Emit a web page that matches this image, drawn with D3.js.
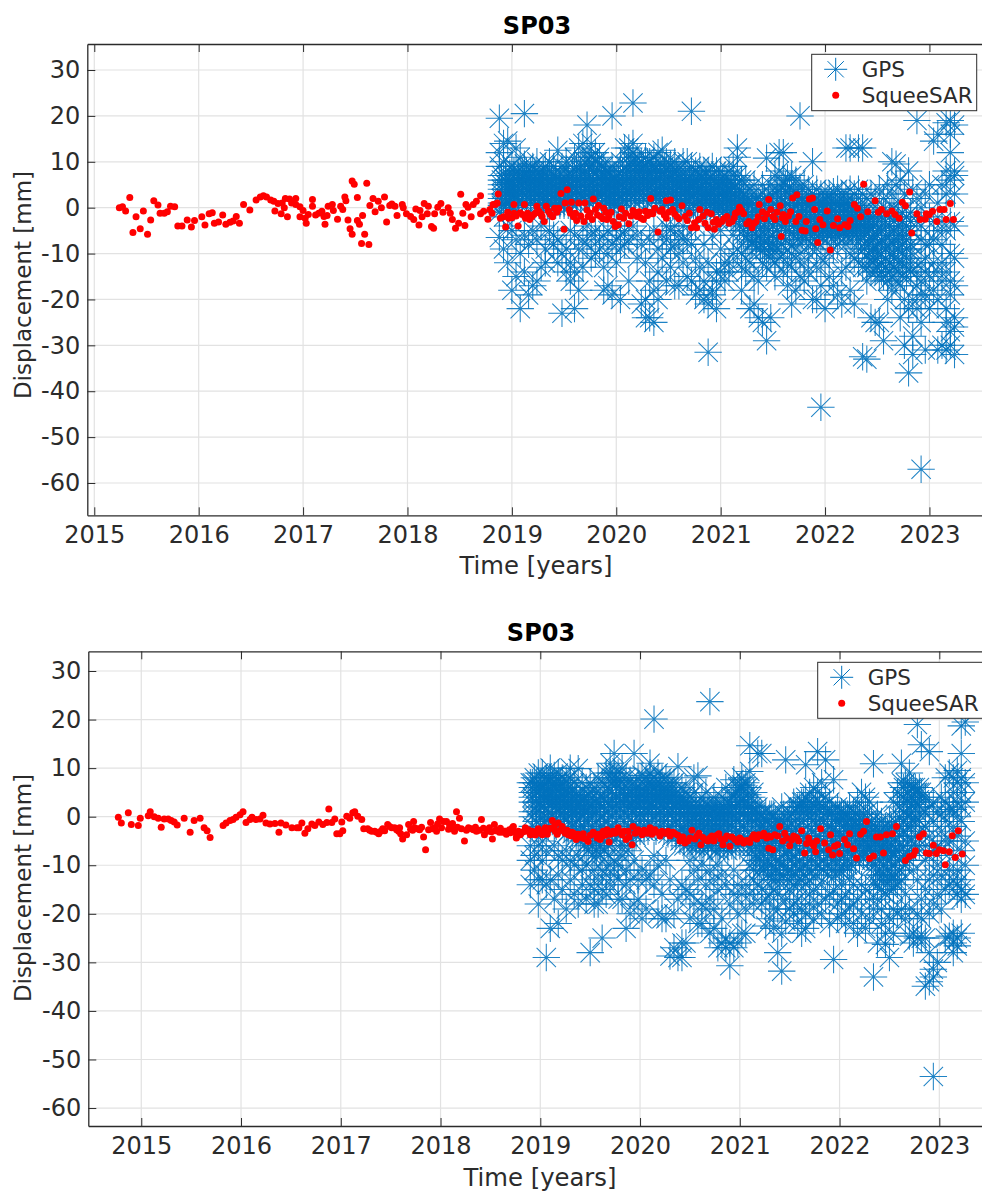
<!DOCTYPE html>
<html><head><meta charset="utf-8">
<script src="https://cdn.jsdelivr.net/npm/d3@7"></script>
<style>html,body{margin:0;padding:0;background:#fff;overflow:hidden}svg{display:block;font-family:"DejaVu Sans",sans-serif}</style>
</head><body><svg id="c" width="982" height="1192"></svg>
<script>
const yearTicksTop=[2015,2016,2017,2018,2019,2020,2021,2022,2023];
const yearTicksBottom=yearTicksTop;
const dispTicks=[30,20,10,0,-10,-20,-30,-40,-50,-60];
const titleText="SP03", xLabel="Time [years]", yLabel="Displacement [mm]";
const seriesNames=["GPS","SqueeSAR"];

const sqTop=[[2015.24,0],[2015.27,.2],[2015.3,-.7],[2015.34,2.2],[2015.37,-5.4],[2015.4,-2],[2015.44,-4.6],[2015.47,-.7],[2015.51,-5.8],[2015.54,-2.7],[2015.57,1.5],[2015.61,.6],[2015.63,-1.2],[2015.67,-1.2],[2015.7,-.9],[2015.73,.3],[2015.77,.2],[2015.8,-4],[2015.84,-4],[2015.89,-2.7],[2015.93,-4.2],[2015.96,-2.8],[2016.03,-2],[2016.06,-3.8],[2016.1,-1.3],[2016.13,-1.1],[2016.15,-3.4],[2016.19,-3.1],[2016.23,-1.6],[2016.26,-3.6],[2016.3,-3.2],[2016.33,-2.9],[2016.36,-1.9],[2016.39,-3.4],[2016.43,.7],[2016.49,-.5],[2016.55,1.7],[2016.59,2.3],[2016.62,2.6],[2016.65,2.3],[2016.69,1.7],[2016.72,1.4],[2016.73,-.7],[2016.76,.9],[2016.79,-1.3],[2016.8,1],[2016.82,0],[2016.83,2],[2016.85,-2],[2016.87,1.9],[2016.89,1],[2016.93,2],[2016.93,.7],[2016.97,.2],[2016.97,-2],[2017,-.6],[2017.02,-2.3],[2017.03,-3.4],[2017.05,-1.5],[2017.09,1.8],[2017.09,.3],[2017.12,-1.6],[2017.15,-1.2],[2017.18,-.8],[2017.2,-1.9],[2017.21,-3.6],[2017.23,-1.7],[2017.24,.3],[2017.28,.7],[2017.29,-.6],[2017.33,-2.5],[2017.36,.3],[2017.38,-.4],[2017.4,2.3],[2017.41,1.5],[2017.43,-2.7],[2017.45,-4.6],[2017.47,-5.8],[2017.47,5.8],[2017.49,5.1],[2017.52,2.2],[2017.52,-2.8],[2017.54,-3.6],[2017.56,-7.8],[2017.57,-1.7],[2017.59,-5.8],[2017.61,5.3],[2017.63,-8],[2017.64,.5],[2017.67,2],[2017.69,-.9],[2017.72,1.4],[2017.75,0],[2017.78,2.3],[2017.8,-3.1],[2017.83,.5],[2017.85,.8],[2017.88,.3],[2017.9,-1.7],[2017.95,.7],[2017.96,0],[2017.99,-1.3],[2018.03,-1.9],[2018.06,-2.6],[2018.08,-.3],[2018.11,-3.8],[2018.12,-.6],[2018.14,-2],[2018.16,.9],[2018.19,-1.3],[2018.2,.3],[2018.23,-4.1],[2018.25,-4.5],[2018.26,-1.3],[2018.29,.1],[2018.32,.9],[2018.34,-1],[2018.39,0],[2018.41,-1.2],[2018.43,-2.6],[2018.46,-4.5],[2018.49,-3.4],[2018.51,2.9],[2018.53,-1.2],[2018.55,-3.9],[2018.56,.7],[2018.58,.1],[2018.61,-2],[2018.63,.7],[2018.66,1.4],[2018.7,2.6],[2018.7,-1.3],[2018.73,-.8],[2018.77,-2.5],[2018.79,-.4],[2018.81,-1.2],[2018.82,.7],[2018.84,.7],[2018.86,1],[2018.87,3],[2018.89,-2.3],[2018.94,-4.2],[2018.97,-2.3],[2019.02,.7],[2019.02,-1.2],[2019.06,-4],[2019.1,-1.5],[2019.12,.7],[2019.15,-1.2],[2019.17,-2.6],[2019.21,-1.5],[2019.24,.3],[2019.26,-.8],[2019.29,-1.9],[2019.31,-3],[2019.33,.3],[2019.37,-1.5],[2019.41,-.1],[2019.45,-.1],[2019.47,3.1],[2019.5,-4.7],[2019.53,3.9],[2019.51,1],[2019.56,-1.2],[2019.57,1.2],[2019.61,-1.2],[2019.62,-2.8],[2019.64,1],[2019.7,1],[2019.69,-3],[2019.73,-1.9],[2019.77,-2.6],[2019.78,1.9],[2019.8,-.4],[2019.83,.5],[2019.85,-1.9],[2019.88,-.1],[2019.91,-2.6],[2019.95,-1],[2019.99,-4.1],[2020.02,-3.7],[2020.05,-.3],[2020.07,-2.3],[2020.12,-3.5],[2020.16,-.6],[2020.2,-1.9],[2020.24,-2.3],[2020.28,-.8],[2020.32,-1],[2020.33,2],[2020.37,-.1],[2020.4,-5.3],[2020.44,-.4],[2020.48,-2.3],[2020.48,1.5],[2020.52,1.7],[2020.54,-.4],[2020.58,-1.9],[2020.63,.4],[2020.66,-1.9],[2020.7,-1.2],[2020.72,-4.4],[2020.77,-4.4],[2020.79,-2.6],[2020.8,-.4],[2020.87,-1],[2020.88,-4.4],[2020.91,-1.3],[2020.94,-4.7],[2020.96,-2.6],[2021.01,-3],[2021.06,-1.9],[2021.11,-3],[2021.14,-1.2],[2021.18,.1],[2021.22,-1.3],[2021.25,-3.5],[2021.3,-4.4],[2021.34,-3],[2021.37,.7],[2021.4,-.9],[2021.42,-2.4],[2021.46,1.8],[2021.48,-.4],[2021.5,-1.9],[2021.54,-1],[2021.57,.4],[2021.58,-6.3],[2021.6,-1.5],[2021.62,-3],[2021.67,-.9],[2021.69,2.1],[2021.73,2.8],[2021.72,-3],[2021.75,-1.9],[2021.78,-4.9],[2021.81,-5.1],[2021.82,-3],[2021.85,1.9],[2021.88,2.1],[2021.9,-.4],[2021.91,-4.6],[2021.93,-7.6],[2021.95,-2.6],[2021.98,-3.7],[2022.02,-.7],[2022.05,-9.2],[2022.08,-3.9],[2022.12,-2.4],[2022.14,-4.4],[2022.19,-3.7],[2022.22,-4.1],[2022.24,-2.8],[2022.28,.7],[2022.31,-.1],[2022.34,-2],[2022.37,5.1],[2022.41,-.9],[2022.48,1.5],[2022.51,-1],[2022.54,-.4],[2022.59,-1.3],[2022.64,-.7],[2022.67,-1.5],[2022.71,-2.3],[2022.74,1.2],[2022.77,.4],[2022.81,3.4],[2022.83,-5.5],[2022.88,-1.3],[2022.91,-2.6],[2022.96,-2.5],[2022.97,-1.3],[2023,-1.5],[2023.03,-.8],[2023.07,-3],[2023.1,-.4],[2023.14,-.4],[2023.16,-2.6],[2023.2,.9],[2023.23,-2.6]];
const sqTopBand=[[2018.92,-2],[2018.96,-1],[2019,-2.2],[2019.04,-1.8],[2019.08,-1.1],[2019.13,-2.3],[2019.19,-2],[2019.23,-1.1],[2019.28,-1.4],[2019.35,-.8],[2019.39,-2],[2019.43,-1],[2019.55,-.4],[2019.59,-2],[2019.66,-1.8],[2019.72,-.5],[2019.75,-1.2],[2019.82,-1.6],[2019.87,-2.4],[2019.9,-1],[2019.93,-1.8],[2019.97,-3],[2020.03,-2],[2020.09,-1.2],[2020.14,-1.8],[2020.18,-1],[2020.22,-.9],[2020.26,-2.6],[2020.3,-1.7],[2020.35,-1.3],[2020.42,-.8],[2020.46,-1.6],[2020.5,-1],[2020.56,-1.4],[2020.6,-2.4],[2020.68,-2.8],[2020.75,-3.3],[2020.83,-1.8],[2020.85,-3.4],[2020.93,-3.2],[2020.98,-3.6],[2021.03,-2.4],[2021.08,-3.4],[2021.13,-2.2],[2021.16,-1],[2021.2,-.6],[2021.27,-3],[2021.32,-3.4],[2021.36,-2],[2021.44,-1.4],[2021.52,-2.6],[2021.59,-2.2],[2021.65,-1.8]];

const sqBottom=[[2014.77,-.1],[2014.8,-1.3],[2014.87,.8],[2014.9,-1.6],[2014.97,-1.8],[2014.99,-.3],[2015.07,.2],[2015.09,1],[2015.13,0],[2015.17,-.3],[2015.2,-2.2],[2015.23,-.5],[2015.27,-.5],[2015.3,-.8],[2015.33,-1.1],[2015.36,-1.7],[2015.43,-.3],[2015.49,-3.2],[2015.53,-.8],[2015.59,-.3],[2015.63,-2.3],[2015.66,-2.9],[2015.69,-4.3],[2015.82,-1.8],[2015.85,-1.3],[2015.89,-.8],[2015.92,-.6],[2015.95,-.1],[2015.99,.4],[2016.02,1],[2016.05,-1.2],[2016.09,-.6],[2016.11,-.1],[2016.15,-.6],[2016.19,-.5],[2016.22,.3],[2016.25,-1.3],[2016.29,-1.5],[2016.34,-1.4],[2016.38,-3.2],[2016.4,-1.3],[2016.45,-1.7],[2016.51,-2.3],[2016.56,-2.3],[2016.58,-2.3],[2016.61,-1.3],[2016.64,-3.4],[2016.67,-2.5],[2016.71,-1.5],[2016.74,-1.8],[2016.78,-1.1],[2016.82,-1.6],[2016.86,-1.2],[2016.88,1.6],[2016.91,-1.2],[2016.94,-.5],[2016.96,-3.5],[2016.99,-3.5],[2017.02,-2.9],[2017.01,-1.1],[2017.06,.1],[2017.09,-.3],[2017.12,.8],[2017.14,1],[2017.17,.1],[2017.21,-.6],[2017.23,-2.5],[2017.27,-2.5],[2017.29,-2.8],[2017.31,-3],[2017.34,-3],[2017.36,-3.2],[2017.38,-3.5],[2017.4,-3],[2017.42,-2.5],[2017.47,-1.6],[2017.49,-2],[2017.51,-2.3],[2017.54,-2.3],[2017.56,-2.7],[2017.59,-2.3],[2017.6,-3.5],[2017.62,-4.6],[2017.66,-3.7],[2017.68,-1.6],[2017.7,-2.6],[2017.73,-1],[2017.74,-2.3],[2017.77,-2.5],[2017.79,-2.7],[2017.83,-4.2],[2017.85,-6.8],[2017.88,-2.7],[2017.9,-1.2],[2017.92,-2.5],[2017.94,-2.3],[2017.97,-1.5],[2017.99,-.5],[2018.03,-1],[2018.06,-1],[2018.09,-1.6],[2018.11,-2.3],[2018.14,-3],[2018.16,1],[2018.17,-2.2],[2018.19,-.3],[2018.21,-2.5],[2018.24,-5],[2018.28,-2.3],[2018.31,-2.5],[2018.33,-2.7],[2018.36,-3],[2018.39,-2.8],[2018.41,-.6],[2018.44,-3.7],[2018.47,-3],[2018.49,-2.3],[2018.52,-4.6],[2018.54,-1.6],[2018.57,-2.8],[2018.59,-3.2],[2018.62,-3.2],[2018.64,-3],[2018.67,-3.1],[2018.69,-2.7],[2018.73,-2],[2018.76,-4.4],[2018.8,-3.4],[2018.85,-2.3],[2018.87,-3],[2018.9,-3.4],[2018.95,-3.7],[2018.98,-2.5],[2018.6,-3],[2018.65,-3],[2018.72,-2.3],[2018.76,-4.2],[2018.8,-3.7],[2018.86,-2.7],[2018.9,-3.7],[2018.95,-3.7],[2018.98,-2.7],[2019.02,-3.7],[2019.05,-2.3],[2019.08,-2.7],[2019.12,-.8],[2019.15,-3],[2019.18,-1.3],[2019.22,-2],[2019.25,-3.4],[2019.28,-3.7],[2019.32,-3.2],[2019.36,-4.7],[2019.4,-4],[2019.43,-3.5],[2019.48,-5.1],[2019.53,-3.2],[2019.57,-4.4],[2019.6,-4.7],[2019.63,-3],[2019.67,-2.7],[2019.69,-5.2],[2019.73,-3],[2019.78,-2.3],[2019.82,-3.7],[2019.86,-4.7],[2019.88,-3],[2019.92,-5.8],[2019.93,-2],[2019.98,-2.7],[2020.02,-3.7],[2020.07,-3.4],[2020.1,-2.3],[2020.15,-2.7],[2020.2,-4],[2020.25,-3.4],[2020.3,-4],[2020.35,-3.5],[2020.4,-5],[2020.45,-5.4],[2020.48,-5],[2020.52,-2.8],[2020.57,-4],[2020.61,-5.8],[2020.65,-4.7],[2020.7,-4.4],[2020.74,-5],[2020.79,-3.5],[2020.83,-5.8],[2020.87,-4],[2020.9,-6.1],[2020.95,-4.7],[2021,-4.4],[2021.04,-5.4],[2021.1,-5.3],[2021.14,-3.7],[2021.19,-3.7],[2021.24,-3.4],[2021.29,-6.5],[2021.33,-6.8],[2021.29,-4],[2021.35,-3.7],[2021.4,-2],[2021.43,-5],[2021.45,-3.4],[2021.5,-6],[2021.54,-4],[2021.59,-5],[2021.62,-2.9],[2021.65,-7.5],[2021.69,-4.4],[2021.72,-5.4],[2021.76,-7.2],[2021.77,-5],[2021.81,-2.5],[2021.85,-5.4],[2021.89,-6.8],[2021.91,-3.7],[2021.93,-7.9],[2021.95,-6.1],[2021.98,-5.8],[2022,-7.6],[2022.05,-4.7],[2022.08,-5.8],[2022.1,-3.5],[2022.14,-6.6],[2022.17,-8.5],[2022.21,-3.6],[2022.24,-3],[2022.27,-1],[2022.3,-8.6],[2022.34,-8.1],[2022.37,-4.2],[2022.41,-4.2],[2022.44,-7.5],[2022.47,-3.7],[2022.53,-3.5],[2022.57,-2],[2022.66,-9],[2022.7,-8.2],[2022.74,-7.9],[2022.76,-7],[2022.8,-4.2],[2022.84,-3.5],[2022.87,-7.5],[2022.9,-7.6],[2022.94,-5.9],[2022.97,-7.6],[2023,-6.8],[2023.04,-7],[2023.06,-9.9],[2023.1,-7.2],[2023.13,-3.9],[2023.16,-8.4],[2023.19,-2.9],[2023.23,-7.7]];
const sqBottomBand=[[2017.44,-2.9],[2017.58,-3],[2017.72,-2.8],[2017.81,-2.2],[2017.96,-3],[2018.01,-2.3],[2018.08,-2.6],[2018.12,-1.4],[2018.26,-2.8],[2018.35,-2.2],[2018.43,-2.4],[2018.51,-3.1],[2018.55,-2.9],[2018.6,-2.4],[2018.66,-3.6],[2018.7,-3.3],[2018.74,-3.1],[2018.78,-3],[2018.83,-3.1],[2018.88,-2.7],[2018.92,-3],[2018.97,-3.3],[2019,-3],[2019.04,-3.2],[2019.07,-3.6],[2019.1,-2.4],[2019.14,-2],[2019.17,-3.6],[2019.2,-2.8],[2019.24,-3],[2019.27,-2.8],[2019.31,-4],[2019.34,-3.5],[2019.38,-3.6],[2019.42,-4.4],[2019.45,-4.6],[2019.5,-3.8],[2019.55,-3.6],[2019.59,-3.6],[2019.62,-4],[2019.65,-3.8],[2019.7,-3.6],[2019.75,-3.4],[2019.8,-3.2],[2019.84,-3],[2019.89,-4.2],[2019.95,-3.4],[2020,-3.2],[2020.04,-2.8],[2020.09,-3],[2020.12,-3.6],[2020.17,-3.2],[2020.22,-3],[2020.28,-3],[2020.33,-3.2],[2020.38,-3.8],[2020.43,-4.2],[2020.5,-4.4],[2020.55,-4.6],[2020.59,-3.4],[2020.63,-4.3],[2020.68,-5],[2020.72,-4],[2020.77,-3.8],[2020.81,-4.6],[2020.85,-4.6],[2020.92,-4.2],[2020.98,-5.2],[2021.02,-4.8],[2021.07,-4.9],[2021.12,-4.4],[2021.17,-4.6],[2021.22,-3.9],[2021.27,-4.4],[2021.31,-4.2],[2021.38,-4],[2021.47,-4.4],[2021.52,-4.8],[2021.57,-4.3],[2021.67,-5.5],[2021.74,-6]];

// GPS scatter, top panel: [year, values near that date...]
const gpsTop=[
[2018.88,19.5,9,-1,-6.5,12],
[2018.92,10,-2,-9,14],
[2018.96,5.5,-4,14.5,-12],
[2019,9,-5,-18,3.5],
[2019.04,13,-7,-15],
[2019.08,11,-22,-10],
[2019.12,20.5,9.5,-6,-14],
[2019.16,6.5,-19,-8],
[2019.2,9,-17,-5],
[2019.24,10,-16,-7],
[2019.28,-13,-4,7],
[2019.32,9,-9,-12],
[2019.36,10,-5],
[2019.4,9,-8,-6],
[2019.44,12.5,-12,-7],
[2019.48,9,-23,-10],
[2019.52,8.5,-14,-9,10],
[2019.56,-16,-12,-5],
[2019.6,11,-14,-22,-6],
[2019.64,-18,-9,13],
[2019.68,14,-13,-7],
[2019.72,18,12,-8,-4],
[2019.76,14,11,-11,-6],
[2019.8,12,-5,-10],
[2019.84,11,-9,-7],
[2019.88,9,-18,-13,-6],
[2019.92,8,-10,-17,-5],
[2019.96,20,9,-8,-19],
[2020,7,-7,-12,-4],
[2020.04,10,-20,-6,-9],
[2020.08,13,-5,-8],
[2020.12,13,11,-7,-16],
[2020.16,22.8,14,12,-4],
[2020.2,11,-11,-6],
[2020.24,10,-8,-21],
[2020.28,11,-20,-12,-24],
[2020.32,10,-16,-24,-7],
[2020.36,11,-25,-18,-5],
[2020.4,12,-20,-9,-14],
[2020.44,12.5,-6,-11],
[2020.48,10,-7,-16,-4],
[2020.52,9.5,-5,-13,-9],
[2020.56,10,-17,-8,-4],
[2020.6,8.5,-6,-17,-10],
[2020.64,10,-12,-4,-7],
[2020.68,10,-7,-15],
[2020.72,21,9,-16,-8],
[2020.76,8,-19,-11,-4],
[2020.8,9,-18,-13],
[2020.84,8,-20,-16,-8],
[2020.88,8,-21,-31.5,-12],
[2020.92,9,-18,-19,-6],
[2020.96,8,-14,-16,-22],
[2021,8,-9,-14,-5],
[2021.04,7,-16,-12],
[2021.08,8,-12,-14],
[2021.12,7,-6,-10,9],
[2021.16,13,7,-9,11],
[2021.2,6,-18,-10,-13],
[2021.24,6,-11,-14],
[2021.28,4,-22,-12],
[2021.32,5,-15,-21],
[2021.36,2.5,-24,-16],
[2021.4,5,-12,-25],
[2021.44,10.8,-13,-29],
[2021.48,5,-11,-24],
[2021.52,7,-12,-15],
[2021.56,8,-11,12],
[2021.6,12,6,-10,-14],
[2021.64,6.5,-12,-17],
[2021.68,7,-10,-21,-13],
[2021.72,6,-11,-18],
[2021.76,20,4.5,-10,-15],
[2021.8,5,-12,-16],
[2021.84,4,-10,-14],
[2021.88,10,3,-8,-20],
[2021.92,4,-9,-20,-13],
[2021.96,-43.5,3,-11,-17],
[2022,3,-22,-12],
[2022.04,3,-10,-15],
[2022.08,3.5,-9,-17],
[2022.12,4,-8,-19],
[2022.16,3,-21,-14],
[2022.2,3,-8,-13,13],
[2022.24,4,-18,-10,13],
[2022.28,3,-11,-21],
[2022.32,4,-9,-12,13],
[2022.36,3,-13,-32.5,13],
[2022.4,2,-13,-33,-16],
[2022.44,3,-14,-24],
[2022.48,2,-14,-9,-25],
[2022.52,4,-15,-25],
[2022.56,2,-15,-29],
[2022.6,5,-16,-20],
[2022.64,10,3,-15,-18],
[2022.68,9.5,5,-16],
[2022.72,6,-17,-24],
[2022.76,3,-30,-20],
[2022.8,8,-36,-22],
[2022.84,4,-32,-20,-28],
[2022.88,19,-3,-14,-22,-17,2],
[2022.92,-57,-4,-12,-7,-16,0,-25,-19],
[2022.96,-31,-8,-14,3,-19,-11],
[2023,-2,-15,-8,-22,5],
[2023.04,14.5,-3,-12,-18,-7],
[2023.08,16,-5,-14,1,-31,-20],
[2023.12,5,-30,-8,-16,-3,-12],
[2023.16,18.5,8,-31,-5,-25,-14,-22,3],
[2023.2,16,19,-3,-16,-30,-27,-10,6,-19,12],
[2023.24,8,-4,-11,-26,-17,7,18,-24,-32,3]];
const gpsTopCore=[
[2018.9,3,6,1,5,.5,4,7,2],
[2018.94,5,2,7,.5,4,6,3,1],
[2018.98,1,4,7.5,3,6,.5,5,2],
[2019.02,6,2.5,8,4,0,5,3,7],
[2019.06,3,7,1,5.5,2,8,4,6],
[2019.1,5,.5,3.5,7,2,6,8,1],
[2019.14,2,6,4,8,.5,3,5,7],
[2019.18,7,3,1.5,5,8,2,6,4],
[2019.22,4,8,2,6,.5,5,3,7],
[2019.26,6,1,5,3,7.5,2.5,4,.5],
[2019.3,3,7,.5,5,2,6,4,8],
[2019.34,5.5,2,7,3.5,.5,4.5,6.5,1],
[2019.38,2,5,7,1,3,6,4,.5],
[2019.42,4,6.5,2,5,.5,7,3,1.5],
[2019.46,6,1,3.5,5,2.5,7,4,.5],
[2019.5,2,5,.5,3,6.5,4,1,5.5],
[2019.54,4.5,1.5,6,3,7,.5,5,2],
[2019.58,3,6,1,4.5,7,2,5,8],
[2019.62,5,8,2,3.5,6,9,1,4],
[2019.66,7,3,9,1.5,5,8,2.5,6],
[2019.7,4,8,2,10,6,3,7,5],
[2019.74,9,5,2.5,7,3.5,10,1,6],
[2019.78,6,3,8,1.5,9.5,5,4,7.5],
[2019.82,8,2,5,10,3,6.5,4,7],
[2019.86,4,7,1,6,9,2.5,5,3],
[2019.9,6.5,2,5,8,3.5,1,4.5,7],
[2019.94,3,5,1.5,7,4,.5,6,2],
[2019.98,5,1,4,6.5,2,.5,3.5,6],
[2020.02,2,5.5,.5,4,6,3,1.5,7],
[2020.06,6,3,8,1.5,5,2,4,7],
[2020.1,4,9,2,6,3.5,8,1,7],
[2020.14,7,2,5,9,3,6,10,4],
[2020.18,5,10,3,8,1.5,6.5,4,9],
[2020.22,8,4,1.5,6,9.5,3,7,5],
[2020.26,3,7,5,9,2,6,4,8],
[2020.3,6,2.5,8,4,10,1,7,5],
[2020.34,4,9,6,1.5,7.5,3,5,8],
[2020.38,7,3,5.5,9,2,8,4,6],
[2020.42,5,8,1.5,6.5,3,9.5,4,7],
[2020.46,2,7,4.5,9,1,5.5,8,3],
[2020.5,6,3.5,8,1,5,7,2,4],
[2020.54,4,7,2,5.5,8,.5,3,6],
[2020.58,6,1.5,4,7,3,5,.5,8],
[2020.62,3,5,7,1,4,6,2,.5],
[2020.66,5.5,2,7,.5,3.5,6,4,1],
[2020.7,4,7,1.5,5,3,-.5,6,2],
[2020.74,6,2.5,.5,4.5,7,3,5,1],
[2020.78,1,5,3,7,-.5,4,2,6],
[2020.82,4,6.5,2,.5,5,3,7,1],
[2020.86,6,1.5,4,-.5,5.5,2.5,3,7],
[2020.9,3,5,.5,6.5,2,4,-1,1],
[2020.94,5,2,.5,4,6,3,-.5,1.5],
[2020.98,2,4.5,-.5,6,1,3,5,.5],
[2021.02,4,1,5.5,-1,2.5,3,6,0],
[2021.06,1.5,4,-1.5,5,3,0,2,6],
[2021.1,3.5,0,5,-2,1,4,2,-1],
[2021.14,2,4.5,-1,.5,3,-2.5,5,1],
[2021.18,1,3,-3,.5,4,-2,-4,2],
[2021.22,-1,2,-5,1,-3,.5,-6,3],
[2021.26,.5,-3,-6,2,-1.5,-4,-7,1],
[2021.3,-2,1,-5,-7.5,-3,.5,-8,-1],
[2021.34,.5,-4,-7,-1,-8.5,2,-3,-6],
[2021.38,-3,1,-6,-8,-1.5,-4.5,-9,.5],
[2021.42,.5,-5,-7.5,-2,2,-9,-3.5,-6],
[2021.46,2,-3,-8,-.5,-5,3,-9.5,-6.5],
[2021.5,-1,-6,2.5,-4,-8,1,-9,-2.5],
[2021.54,3,-3,-7,.5,4,-5,-9,-1.5],
[2021.58,-2,2,-6,4.5,-4,1,-8,-.5],
[2021.62,1,-4,3.5,-7,-2,5,-5,.5],
[2021.66,4,-1,-5,2,-8,-3,3,.5],
[2021.7,-2,2,-6,.5,3.5,-4,-8,-.5],
[2021.74,1,-3,3,-5.5,-1,-7,.5,-4],
[2021.78,-1,2,-4,-6,.5,-2.5,-7,1.5],
[2021.82,.5,-3,-5,1,-1,-6.5,-2,-4],
[2021.86,-2,1,-4.5,-.5,-6,.5,-3,-5],
[2021.9,.5,-3,-5.5,-1,1.5,-4,-7,-2],
[2021.94,-1,-4,1,-6,-2.5,.5,-3,-5],
[2021.98,-3,.5,-5,-1.5,-6.5,1,-4,-2],
[2022.02,-1,-4,.5,-6,-2,-3,-5,1],
[2022.06,-3,.5,-5,-1,-6,-2,-4,1.5],
[2022.1,-2,-4.5,.5,-1,-6,-3,-5,1],
[2022.14,.5,-3,-5,-1.5,-2,-6,-4,1],
[2022.18,-2,-4,.5,-5.5,-1,-3,1,-5],
[2022.22,-1,-3,-5,.5,-2,-4,-6,1],
[2022.26,-3,-.5,-5,-1.5,-4,.5,-2,-6],
[2022.3,-1,-4,.5,-2.5,-5,-3,-1.5,-6],
[2022.34,-2,-5,0,-3,-6,-1,-4,-7],
[2022.38,-3,-6,-1,-8,-4,-5,-9,-2],
[2022.42,-4,-8,-2,-10,-5,-7,-11,-3],
[2022.46,-6,-2,-9,-4,-11,-7,-12,-3],
[2022.5,-3,-8,-5,-11,-1,-13,-6,-10],
[2022.54,-7,-3,-10,-5,-12,-8,-14,-1],
[2022.58,-4,-9,-1,-11,-6,-13,-3,-8],
[2022.62,-6,-2,-10,-4,-12,-8,-14,-1],
[2022.66,-3,-8,0,-11,-5,-13,-7,-10],
[2022.7,-7,-2,-9,-4,-12,-6,-14,1],
[2022.74,-4,-10,-1,-8,-12,-6,-15,-3],
[2022.78,-6,-2,-9,-13,-4,-11,-7,-15],
[2022.82,-3,-8,-11,-5,-13,-1,-9,-14]];

const gpsBottom=[
[2018.9,7,-6,-14,-9],
[2018.94,8,-11,-8],
[2018.98,9,-6,-13,-18],
[2019.02,9,-5,-13,-9],
[2019.06,8,-29,-7,-14],
[2019.1,8,-23,-13,10],
[2019.14,8.5,-6,-17],
[2019.18,9,-22,-8,-12],
[2019.22,8,-15,-9],
[2019.26,7.5,-19,-7],
[2019.3,8,-13,-9,10],
[2019.34,7,-16,-10],
[2019.38,9.9,-8,-18],
[2019.42,7,-14,-11],
[2019.46,6,-10,-17],
[2019.5,7,-28,-14],
[2019.54,6,-18,-15,-11],
[2019.58,8,-13,-18],
[2019.62,7,-25,-11,-15],
[2019.66,9,-12,-16],
[2019.7,9,-14,-10,11],
[2019.74,13,9,-9,-12],
[2019.78,9,-10,-13,-17],
[2019.82,10,-8,-17],
[2019.86,8,-23,-11,-14],
[2019.9,7.5,-20,-13],
[2019.94,13,-9,-18],
[2019.98,8,-13,-17],
[2020.02,8.5,-21,-11],
[2020.06,8,-13,-19],
[2020.1,9,-12,11],
[2020.14,20.1,8,-8,-14],
[2020.18,9,-10,-20],
[2020.22,8,-16,-21],
[2020.26,8,-21,-9],
[2020.3,7,-28.7,-13],
[2020.34,7,-27,-20],
[2020.38,10.3,-29,-17],
[2020.42,6,-29,-14,-26],
[2020.46,5,-26,-15],
[2020.5,4,-9,-16,-21],
[2020.54,5,-11,-18,8],
[2020.58,8.4,-13,-22],
[2020.62,4,-10,-22,-18],
[2020.66,5,-14,-19],
[2020.7,23.7,2,-11,-17,-24],
[2020.74,4,-13,-19,-23],
[2020.78,2,-10,-27,-15],
[2020.82,4,-12,-26,-21],
[2020.86,6,-14,-25,-27],
[2020.9,2.5,-30.7,-18,-26],
[2020.94,7.6,-27,-16,-11],
[2020.98,6,-26,-14,-20],
[2021.02,6.5,-24,-16,8],
[2021.06,7,-24,-14,-19],
[2021.1,9.3,-10,-16,14.6],
[2021.14,5,-13,-18,-11],
[2021.18,2,-14,13],
[2021.22,.5,-15,-18,13],
[2021.26,1,-22.5,-17],
[2021.3,.5,-16,-21],
[2021.34,.5,-15,-19,-23],
[2021.38,-1,-28,-16,-19],
[2021.42,2,-31.8,-24],
[2021.46,11.7,-21.5,-17],
[2021.5,1,-15,-19],
[2021.54,3,-14,-18,-20],
[2021.58,2,-14,-17,-22],
[2021.62,3,-13,-19,-24],
[2021.66,10.7,4,-14,-20,-23],
[2021.7,5,-13,-16,-18],
[2021.74,6,-15,-21],
[2021.78,13.4,5,-10,-18],
[2021.82,7,-14,-20],
[2021.86,11.7,4,-17],
[2021.9,3,-16,-22],
[2021.94,7.6,-29.4,-15],
[2021.98,2,-18,-21],
[2022.02,1,-14,-17,-20],
[2022.06,.5,-16,-22],
[2022.1,2,-13,-19],
[2022.14,1,-14,-18,-22],
[2022.18,3,-17,-24],
[2022.22,5,-14,-20],
[2022.26,4,-15,-23],
[2022.3,3,-17,-21],
[2022.34,10.9,-33,-14,-19],
[2022.38,.5,-14,-17,-26],
[2022.42,-1,-15,-22,-19],
[2022.46,-2,-26.3,-16,-24],
[2022.5,-1,-15,-29,-21],
[2022.54,3,-15,-19,-24],
[2022.58,5,-14,-20],
[2022.62,11,7,-13,-19],
[2022.66,7,-10,-21,-16],
[2022.7,9,-9,-24.6,-19],
[2022.74,6,-11,-26,-24],
[2022.78,19,5,-13,-25,-20],
[2022.82,14.8,5,-17,-21,-25],
[2022.86,4,-2,1,-6,-9,-34.9,-15,-25],
[2022.9,13.4,2,-4,-8,-34,-13,-20,-28],
[2022.94,-53.5,3,-1,-12,-31.4,-7,-18,-33],
[2022.98,1,-6,-10,-16,-30],
[2023.02,4,-3,-12,.5,-7,-19],
[2023.06,8,-1,-5,3,-15,-25],
[2023.1,9,2,-5,-11,-14,-24.6,1],
[2023.14,5,-2,-8,1.5,-13,-28,-26,-24,8],
[2023.18,7,0,-4,9.5,-11,-16,-26.6,3,-25,-14],
[2023.22,18.7,13,5,-1,-7,-13,-24,2,8,-15,-17],
[2023.26,3,7,-5,-10,-16,19.5]];
const gpsBottomCore=[
[2018.92,3,6,0,5,-2,4,7,1],
[2018.96,5,1,7,-1,3,6,-2.5,2],
[2019,.5,4,7,-2,5.5,2,6,3],
[2019.04,6,2,-1,5,3.5,7,0,4],
[2019.08,3,7,1,5,-2,4,6,-.5],
[2019.12,5,-1,2.5,6.5,0,4,7,3],
[2019.16,1,4,7,-2,5.5,2,3,6],
[2019.2,6,3,-1,5,.5,7,2,4],
[2019.24,2,5,-2.5,4,6,0,3,1],
[2019.28,4.5,0,6,2,-1,5,3,-3],
[2019.32,2,5.5,-2,3,.5,4,-3.5,1],
[2019.36,3.5,-1,4.5,-4,1.5,2.5,-3,.5],
[2019.4,0,3,-3,4,-5,1,-2,2],
[2019.44,2,-4,.5,3.5,-2,-6,1,4],
[2019.48,-1,3,-5,1,-7,2,-3,4.5],
[2019.52,4,-2,.5,-6,2.5,-4,-8,1],
[2019.56,-3,1,5,-1,-7,3,-5,-8],
[2019.6,2,-2,-6,4,0,-8,-4,3],
[2019.64,5,-1,2,-5,-3,3.5,-7,.5],
[2019.68,1,6,-3,3,-6,5,-1,-8],
[2019.72,7,2,-2,5,-5,3,8,0],
[2019.76,4,8,1,6,-3,2.5,-1,7],
[2019.8,6,2,-4,7.5,0,5,3,-6],
[2019.84,3,6,-1,5,-6,1,4,-3],
[2019.88,4.5,-2,2,6,-7,0,3,-4],
[2019.92,1,5,-3,3,-1,6,-5,2],
[2019.96,4,-2,5.5,.5,3,-4,2,6],
[2020,2,5,-1,6,3,-3,.5,4],
[2020.04,5,.5,3,-2,6,1.5,4,-3],
[2020.08,3,6,-1,4.5,1,7,-3,2],
[2020.12,6,2,4,-2,7,.5,5,3],
[2020.16,3.5,7,0,5,-3,2,6,4],
[2020.2,5,1,6,-2,3,7,.5,4],
[2020.24,2,6,4,-1,5,-3,3,.5],
[2020.28,4,-2,6,1,3,5,-3.5,.5],
[2020.32,.5,5,3,-2,4,-4,1.5,6],
[2020.36,4,-1,2,5,-3.5,.5,3,-4],
[2020.4,2,-3,4,0,-5,3,1,-2],
[2020.44,-2,3,.5,-5,2,-3,4,-6],
[2020.48,1,-3,3,-1,-5.5,.5,2,-4],
[2020.52,-2,.5,-5,2,-3,-6,1,-1],
[2020.56,.5,-4,-1,2,-6,-2.5,1,-5],
[2020.6,-3,1,-5,-1,2,-6,-2,.5],
[2020.64,1.5,-2,-5,.5,-4,-7,-1,2],
[2020.68,-3,.5,-6,-1.5,1,-4,2,-5],
[2020.72,.5,-4,-1,-6.5,1.5,-3,-2,-5],
[2020.76,-2,1,-5,.5,-7,-3,-1,2],
[2020.8,-4,.5,-2,-6,1,-3,-7,-1],
[2020.84,1,-3,-5.5,.5,-1.5,2,-6,-4],
[2020.88,-2,1,-6,-4,.5,3,-7,-1],
[2020.92,2,-4,.5,4,-2,-6,1,-5],
[2020.96,5,-1,2,-5,3.5,-3,.5,-6],
[2021,1,5.5,-3,3,-6,.5,6,-1],
[2021.04,4,-2,6,1,-5,3,-4,.5],
[2021.08,6,2,-3,4.5,-6,.5,3,-1],
[2021.12,2,-4,4,-1,-6,.5,-7,1],
[2021.16,-1,-5,1,-8,-3,.5,-6,-9],
[2021.2,.5,-4,-9,-2,-6,-11,-1,-7],
[2021.24,-3,-8,-.5,-5,-11,-6.5,-2,-10],
[2021.28,-6,-1,-10,-3,-12,-7,-4,-9],
[2021.32,-2,-8,-4,-12,-5.5,-10,.5,-13],
[2021.36,-7,-3,-11,-.5,-5,-9,-13,-2],
[2021.4,-4,-9,-1,-12,-6,-2.5,-10,-13],
[2021.44,-1,-6,-10,-3,-8,-12,.5,-5],
[2021.48,-8,-2,-5,-11,-.5,-7,-13,-4],
[2021.52,-3,-9,.5,-6,-11,-1.5,-8,-12],
[2021.56,-6,-1,-10,1,-4,-8,-12,-2.5],
[2021.6,1,-5,-9,-2,-11,2,-7,-3.5],
[2021.64,-4,2,-8,-.5,-6,-10,3,-12],
[2021.68,.5,-6,-2,-9,2,-4,-11,1],
[2021.72,-3,2.5,-7,.5,-11,-5,-1,-9],
[2021.76,1,-4,3,-8,-1.5,-12,-6,2],
[2021.8,-2,-6,1.5,-10,3,-4,-8,-.5],
[2021.84,2,-3,-7,.5,-11,-5,-1,-9],
[2021.88,-4,1,-8,-2,-6,-12,.5,-10],
[2021.92,.5,-5,-2,-9,1,-7,-11,-3],
[2021.96,-3,-7,.5,-11,-5,-1,-9,-12],
[2022,-1,-6,-3,-9,.5,-11,-7,-4],
[2022.04,-4,-.5,-8,-2,-10,-6,.5,-11],
[2022.08,-1,-5,-9,-3,.5,-7,-10,-2],
[2022.12,-6,-2,-4,-8,-.5,-10,-3,-7],
[2022.16,-1,-5,-7,-3,-9,.5,-2,-6],
[2022.2,-3,-6,-1,-8,.5,-4,-9,-2],
[2022.24,-5,-1,-7,-3,.5,-6,-8,-2],
[2022.28,-2,-6,-.5,-4,-8,-3,-7,1],
[2022.32,-4,-1,-7,-5,-9,-2,-10,-6],
[2022.36,-3,-7,-5,-10,-2,-8,-12,-4],
[2022.4,-6,-3,-9,-11,-5,-7,-12,-4],
[2022.44,-4,-8,-10,-3,-6,-12,-7,-13],
[2022.48,-7,-3,-9,-5,-11,-13,-6,-8],
[2022.52,-4,-10,-6,-12,-2,-8,-13,-7],
[2022.56,-8,-3,-5,-10,-12,-1,-7,-13],
[2022.6,-2,-6,2,-9,-4,-11,0,-7],
[2022.64,3,-3,6,-6,1,-8,-1,4],
[2022.68,5,0,-4,3,-7,1,-2,6],
[2022.72,1,4,-5,6,-2,2.5,-6,-.5],
[2022.76,5,-1,3,-4,6,0,-6,2],
[2022.8,2,-3,5,-1,-6,3.5,.5,6]];

const expand=rows=>rows.flatMap(r=>r.slice(1).map(v=>[r[0],v]));

const svg=d3.select("#c");
const blue="#0072BD", red="#FF0000", ink="#2b2b2b", gridC="#e2e2e2";

function panel(cfg){
  const x=d3.scaleLinear().domain(cfg.xd).range([cfg.l,cfg.r]);
  const y=d3.scaleLinear().domain(cfg.yd).range([cfg.b,cfg.t]);
  const g=svg.append("g");
  const id="clip"+cfg.id;
  svg.append("defs").append("clipPath").attr("id",id).append("rect")
    .attr("x",cfg.l).attr("y",cfg.t).attr("width",cfg.r-cfg.l).attr("height",cfg.b-cfg.t);

  const grid=g.append("g").attr("stroke",gridC).attr("stroke-width",1.2);
  grid.selectAll("line.v").data(cfg.xt).join("line").attr("x1",d=>x(d)).attr("x2",d=>x(d)).attr("y1",cfg.t).attr("y2",cfg.b);
  grid.selectAll("line.h").data(dispTicks).join("line").attr("x1",cfg.l).attr("x2",cfg.r).attr("y1",d=>y(d)).attr("y2",d=>y(d));

  const star=(r)=>{const k=r*Math.SQRT1_2;return `M${-r},0H${r}M0,${-r}V${r}M${-k},${-k}L${k},${k}M${-k},${k}L${k},${-k}`;};
  const plot=g.append("g").attr("clip-path",`url(#${id})`);
  plot.append("g").attr("fill","none").attr("stroke",blue).attr("stroke-width",1.05).attr("stroke-opacity",.88)
    .selectAll("path").data(expand(cfg.gps)).join("path")
    .attr("d",star(13.7)).attr("transform",d=>`translate(${x(d[0])},${y(d[1])})`);
  plot.append("g").attr("fill",red).selectAll("circle").data(cfg.sq).join("circle")
    .attr("cx",d=>x(d[0])).attr("cy",d=>y(d[1])).attr("r",3.5);

  const st=s=>{s.select(".domain").attr("stroke",ink).attr("stroke-width",1.3);
    s.selectAll(".tick line").attr("stroke",ink).attr("stroke-width",1);
    s.selectAll("text").attr("fill",ink).style("font-family",'"DejaVu Sans",sans-serif').style("font-size","24px");};
  g.append("g").attr("transform",`translate(0,${cfg.b})`).call(d3.axisBottom(x).tickValues(cfg.xt).tickFormat(d=>String(d)).tickSizeInner(-8).tickSizeOuter(0).tickPadding(11)).call(st);
  g.append("g").attr("transform",`translate(0,${cfg.t})`).call(d3.axisTop(x).tickValues(cfg.xt).tickFormat("").tickSizeInner(-8).tickSizeOuter(0)).call(st);
  g.append("g").attr("transform",`translate(${cfg.l},0)`).call(d3.axisLeft(y).tickValues(dispTicks).tickFormat(d=>String(d)).tickSizeInner(-8).tickSizeOuter(0).tickPadding(7)).call(st);

  g.append("text").attr("x",cfg.titleX).attr("y",cfg.titleY).attr("text-anchor","middle").attr("font-weight","bold").attr("font-size",24).attr("fill","#000").text(titleText);
  g.append("text").attr("x",cfg.xlX).attr("y",cfg.xlY).attr("text-anchor","middle").attr("font-size",24.3).attr("fill",ink).text(xLabel);
  g.append("text").attr("transform",`translate(${cfg.ylX},${cfg.ylY}) rotate(-90)`).attr("text-anchor","middle").attr("font-size",23).attr("fill",ink).text(yLabel);

  // legend
  const L=cfg.leg, lg=g.append("g");
  lg.append("rect").attr("x",L.x).attr("y",L.y).attr("width",L.w).attr("height",L.h).attr("fill","#fff").attr("stroke",ink).attr("stroke-width",1);
  lg.append("path").attr("d",star(11.5)).attr("fill","none").attr("stroke",blue).attr("stroke-width",1)
    .attr("transform",`translate(${L.x+24},${L.y+15})`);
  lg.append("circle").attr("cx",L.x+24).attr("cy",L.y+41).attr("r",3.5).attr("fill",red);
  lg.selectAll("text").data(seriesNames).join("text").attr("x",L.x+50).attr("y",(d,i)=>L.y+23+i*26)
    .attr("font-size",21.5).attr("fill",ink).text(d=>d);
}

panel({id:1,l:87.3,r:990,t:44,b:515.3,xd:[2014.933,2023.58],yd:[-67.04,35.67],xt:yearTicksTop,gps:gpsTop.concat(gpsTopCore),sq:sqTop.concat(sqTopBand),
  titleX:537,titleY:34,xlX:536,xlY:574,ylX:31,ylY:285,leg:{x:811.7,y:54.3,w:165,h:56.4}});
panel({id:2,l:88.3,r:990,t:651.3,b:1126,xd:[2014.469,2023.508],yd:[-63.7,34.06],xt:yearTicksBottom,gps:gpsBottom.concat(gpsBottomCore),sq:sqBottom.concat(sqBottomBand),
  titleX:541,titleY:641,xlX:540,xlY:1186,ylX:31,ylY:888,leg:{x:817.7,y:662.3,w:170,h:56}});
</script></body></html>
